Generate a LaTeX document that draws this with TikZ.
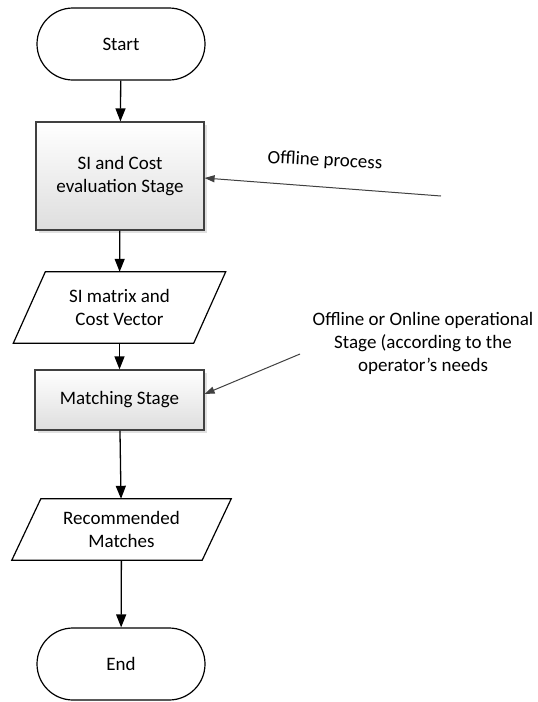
\documentclass[tikz,border=0pt]{standalone}
\usepackage{fontspec}
\setmainfont{Carlito}
\usetikzlibrary{arrows.meta,shadows,calc}
\begin{document}
\begin{tikzpicture}[x=1pt,y=-1pt,
  font=\fontsize{19}{23}\selectfont,
  term/.style={draw=black, line width=1.2pt, rounded corners=36pt, minimum width=168pt, minimum height=72pt, inner sep=0pt},
  proc/.style={draw=black!75, line width=1.2pt, top color=white, bottom color=black!13,
    drop shadow={shadow xshift=2.5pt, shadow yshift=-2.5pt, opacity=0.3, fill=black!40},
    align=center, inner sep=0pt},
  databox/.style={inner sep=0pt, align=center},
  dataline/.style={line width=1.2pt, draw=black},
  flow/.style={line width=1.3pt, -{Triangle[length=13pt,width=10pt]}},
  side/.style={draw=black!75, line width=1pt, -{Triangle[length=10pt,width=7pt]}},
  lab/.style={align=center, inner sep=0pt, text=black}
  ]
\fill[white] (0,0) rectangle (538,702);
\useasboundingbox (0,0) rectangle (538,702);

\node[term] (start) at (121,44) {Start};
\node[proc, minimum width=168pt, minimum height=108pt] (si) at (120,176) {SI and Cost\\evaluation Stage};
\node[databox, minimum width=180pt, minimum height=71pt] (d1) at (119.5,307.5) {SI matrix and\\Cost Vector};
\draw[dataline] ([xshift=16pt]d1.north west) -- ([xshift=16pt]d1.north east) -- ([xshift=-16pt]d1.south east) -- ([xshift=-16pt]d1.south west) -- cycle;
\node[proc, minimum width=169pt, minimum height=60pt] (match) at (119.5,400) {Matching Stage};
\node[databox, minimum width=190pt, minimum height=61pt] (d2) at (121.5,529.5) {Recommended\\Matches};
\draw[dataline] ([xshift=14.5pt]d2.north west) -- ([xshift=14.5pt]d2.north east) -- ([xshift=-14.5pt]d2.south east) -- ([xshift=-14.5pt]d2.south west) -- cycle;
\node[term] (end) at (121,664) {End};

\draw[flow] (start) -- (si);
\draw[flow] (si) -- (d1);
\draw[flow] (d1) -- (match);
\draw[flow] (match) -- (d2);
\draw[flow] (d2) -- (end);

\node[lab, rotate=-3] (offl) at (325,161) {Offline process};
\coordinate (offstart) at (441,196);
\draw[side] (offstart) -- ([yshift=-2pt]si.east);

\node[lab] (onl) at (423,343) {Offline or Online operational\\Stage (according to the\\operator’s needs};
\coordinate (onstart) at (300,354);
\draw[side] (onstart) -- ([yshift=6pt]match.east);
\end{tikzpicture}
\end{document}
